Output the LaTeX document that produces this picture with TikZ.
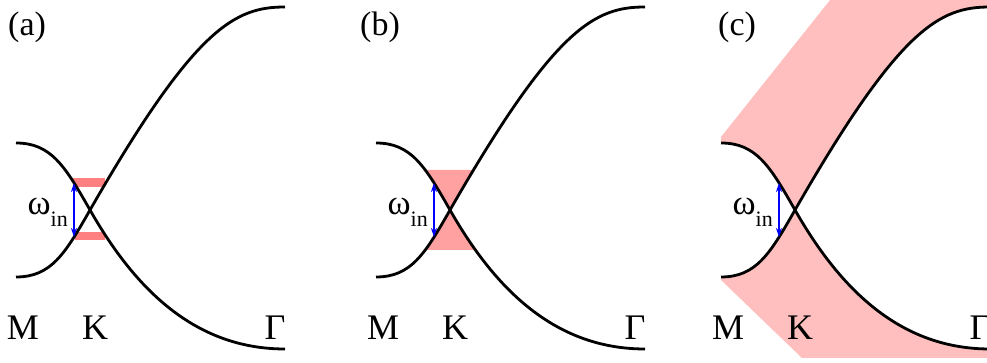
\documentclass[tikz,border=0pt]{standalone}
\usepackage{fontspec}
\setmainfont{Liberation Serif}
\usetikzlibrary{arrows.meta}

\begin{document}
\begin{tikzpicture}[x=1pt,y=1pt,
  band/.style={line width=2.8pt},
  gap/.style={blue,line width=1.3pt,{Stealth[length=9pt,width=6pt]}-{Stealth[length=9pt,width=6pt]}},
  lbl/.style={font=\fontsize{36}{36}\selectfont,inner sep=0pt}]
\useasboundingbox (0,0) rectangle (987,363);
\clip (0,0) rectangle (987,363);

% (c) shaded region, under everything
\begin{scope}[shift={(794,153)}]
\fill[red!25] (-73,73) -- (44,220) -- (200,220) -- (200,-148) -- (8,-148) -- (-73,-70) -- cycle;
\fill[white] (-74,67) .. controls (-39,67) and (-25,44) .. (0,0) .. controls (-25,-44) and (-39,-67) .. (-74,-67) -- cycle;
\fill[white] (0,0) .. controls (105,183) and (145,203) .. (195,203) -- (195,-139) .. controls (105,-139) and (45,-79) .. (0,0) -- cycle;
\end{scope}

% (a) two bars
\begin{scope}[shift={(90,153)}]
\fill[red!50] (-17,23) rectangle (15,32);
\fill[red!50] (-15,-30) rectangle (15,-22);
\end{scope}

% (b) hourglass
\begin{scope}[shift={(450,153)}]
\fill[red!37] (-25,40) -- (23,40) -- (0,0) -- cycle;
\fill[red!37] (-23,-40) -- (24,-40) -- (0,0) -- cycle;
\end{scope}

% bands, gap and labels in each panel
\foreach \o/\p in {0/a,360/b,705/c}{
\begin{scope}[shift={(90+\o,153)}]
\draw[band] (-74,67) .. controls (-39,67) and (-25,44) .. (0,0) .. controls (45,-79) and (105,-139) .. (195,-139);
\draw[band] (-74,-67) .. controls (-39,-67) and (-25,-44) .. (0,0) .. controls (105,183) and (145,203) .. (195,203);
\coordinate (up\p) at (-16,27);
\coordinate (lo\p) at (-16,-27);
\draw[gap] (up\p) -- (lo\p);
\node[anchor=base east,inner sep=0pt] (w\p) at (-22,-5) {\fontsize{35}{35}\selectfont ω\raisebox{-12pt}{\fontsize{22}{22}\selectfont in}};
\node[lbl,anchor=base] (M\p) at (-67,-130) {M};
\node[lbl,anchor=base] (K\p) at (5,-130) {K};
\node[lbl,anchor=base] (G\p) at (185,-130) {Γ};
\end{scope}
}

\node[lbl,anchor=base west,font=\fontsize{34}{34}\selectfont] (la) at (8,327) {(a)};
\node[lbl,anchor=base west,font=\fontsize{34}{34}\selectfont] (lb) at (360,327) {(b)};
\node[lbl,anchor=base west,font=\fontsize{34}{34}\selectfont] (lc) at (718,327) {(c)};
\end{tikzpicture}
\end{document}
